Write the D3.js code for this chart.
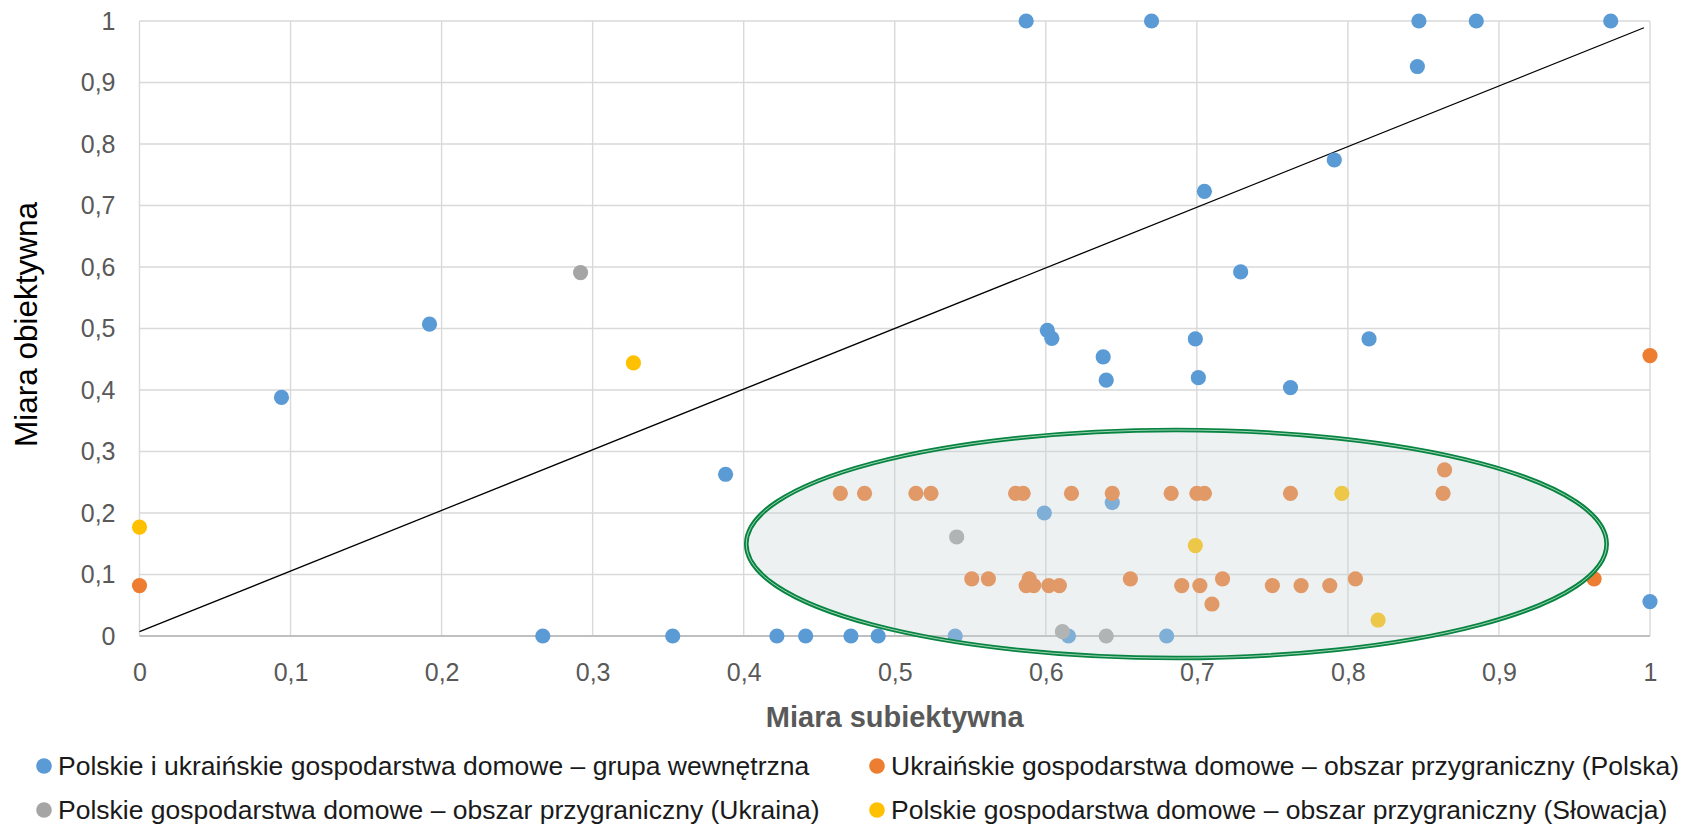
<!DOCTYPE html>
<html>
<head>
<meta charset="utf-8">
<script src="https://cdn.jsdelivr.net/npm/d3@7"></script>
<style>
  body { margin:0; background:#fff; }
  text { font-family: "Liberation Sans", Arial, sans-serif; }
</style>
</head>
<body>
<svg id="svg"></svg>
<script>
const WIDTH = 1694, HEIGHT = 824;
const margin = {top:21, right:44, bottom:188, left:139.5};

// ticks
const xTicks = [0, 0.1, 0.2, 0.3, 0.4, 0.5, 0.6, 0.7, 0.8, 0.9, 1];
const yTicks = [0, 0.1, 0.2, 0.3, 0.4, 0.5, 0.6, 0.7, 0.8, 0.9, 1];

const seriesNames = [
    'Polskie i ukraińskie gospodarstwa domowe – grupa wewnętrzna',
    'Ukraińskie gospodarstwa domowe – obszar przygraniczny (Polska)',
    'Polskie gospodarstwa domowe – obszar przygraniczny (Ukraina)',
    'Polskie gospodarstwa domowe – obszar przygraniczny (Słowacja)'
];
const seriesColors = ['#5B9BD5', '#ED7D31', '#A5A5A5', '#FFC000'];

// [subiektywna, obiektywna]
const grupaWewnetrzna = [
    [0.587,1], [0.670,1], [0.847,1], [0.885,1], [0.974,1],
    [0.846,0.926], [0.791,0.774], [0.705,0.723], [0.729,0.592],
    [0.192,0.507], [0.094,0.388],
    [0.601,0.497], [0.604,0.484], [0.638,0.454], [0.640,0.416],
    [0.699,0.483], [0.701,0.420], [0.762,0.404], [0.814,0.483],
    [0.388,0.263], [0.599,0.200], [0.644,0.217], [1,0.056],
    [0.267,0], [0.353,0], [0.422,0], [0.441,0], [0.471,0], [0.489,0],
    [0.540,0], [0.615,0], [0.680,0]
];
const ukrainskiePolska = [
    [0,0.082], [1,0.456], [0.963,0.093],
    [0.464,0.232], [0.480,0.232], [0.514,0.232], [0.524,0.232], [0.580,0.232],
    [0.585,0.232], [0.617,0.232], [0.644,0.232], [0.683,0.232], [0.700,0.232],
    [0.705,0.232], [0.762,0.232], [0.863,0.232], [0.864,0.270],
    [0.551,0.093], [0.562,0.093], [0.589,0.093], [0.656,0.093], [0.717,0.093], [0.805,0.093],
    [0.587,0.082], [0.592,0.082], [0.602,0.082], [0.609,0.082], [0.690,0.082],
    [0.702,0.082], [0.750,0.082], [0.769,0.082], [0.788,0.082],
    [0.710,0.052]
];
const polskieUkraina = [
    [0.292,0.591], [0.541,0.161], [0.611,0.007], [0.640,0]
];
const polskieSlowacja = [
    [0,0.177], [0.327,0.444], [0.796,0.232], [0.699,0.147], [0.820,0.026]
];

const trendLine = [[0,0.007], [0.996,0.989]];
// cx, cy, rx, ry in data units
const ellipseData = [0.6865, 0.1496, 0.2848, 0.1854];

const svg = d3.select('#svg').attr('width', WIDTH).attr('height', HEIGHT);
const w = WIDTH - margin.left - margin.right, h = HEIGHT - margin.top - margin.bottom;
const x = d3.scaleLinear().domain([0,1]).range([margin.left, margin.left + w]);
const y = d3.scaleLinear().domain([0,1]).range([margin.top + h, margin.top]);
const fmt = d => String(d).replace('.', ',');

// grid
svg.append('g').selectAll('line').data(xTicks).join('line')
    .attr('x1', d => x(d)).attr('x2', d => x(d))
    .attr('y1', y(0)).attr('y2', y(1))
    .attr('stroke', '#D9D9D9').attr('stroke-width', 1.4);
svg.append('g').selectAll('line').data(yTicks.slice(1)).join('line')
    .attr('x1', x(0)).attr('x2', x(1))
    .attr('y1', d => y(d)).attr('y2', d => y(d))
    .attr('stroke', '#D9D9D9').attr('stroke-width', 1.4);
svg.append('line')
    .attr('x1', x(0)).attr('x2', x(1)).attr('y1', y(0)).attr('y2', y(0))
    .attr('stroke', '#BFBFBF').attr('stroke-width', 1.8);

// axes
const xAxis = svg.append('g').attr('transform', 'translate(0,' + (y(0) + 24) + ')')
    .call(d3.axisBottom(x).tickValues(xTicks).tickFormat(fmt).tickSize(0));
xAxis.select('.domain').remove();
xAxis.selectAll('text').attr('font-size', 25).attr('fill', '#595959').attr('dy', '0.71em')
    .attr('font-family', '"Liberation Sans", Arial, sans-serif');

const yAxis = svg.append('g').attr('transform', 'translate(' + (x(0) - 24) + ',0)')
    .call(d3.axisLeft(y).tickValues(yTicks).tickFormat(fmt).tickSize(0));
yAxis.select('.domain').remove();
yAxis.selectAll('text').attr('font-size', 25).attr('fill', '#595959').attr('x', 0)
    .attr('font-family', '"Liberation Sans", Arial, sans-serif');

// titles
svg.append('text').attr('x', x(0.5)).attr('y', 727)
    .attr('text-anchor', 'middle').attr('font-size', 29).attr('font-weight', 'bold')
    .attr('fill', '#595959').text('Miara subiektywna');
svg.append('text').attr('transform', 'translate(37,' + (y(0.5) - 4) + ') rotate(-90)')
    .attr('text-anchor', 'middle').attr('font-size', 31.5)
    .attr('fill', '#000').text('Miara obiektywna');

// trend line
svg.append('line')
    .attr('x1', x(trendLine[0][0])).attr('y1', y(trendLine[0][1]))
    .attr('x2', x(trendLine[1][0])).attr('y2', y(trendLine[1][1]))
    .attr('stroke', '#000').attr('stroke-width', 1.3);

// points
const allSeries = [grupaWewnetrzna, ukrainskiePolska, polskieUkraina, polskieSlowacja];
allSeries.forEach((s, i) => {
    svg.append('g').selectAll('circle').data(s).join('circle')
        .attr('cx', d => x(d[0])).attr('cy', d => y(d[1]))
        .attr('r', 7.6).attr('fill', seriesColors[i]);
});

// ellipse over points
const [ecx, ecy, erx, ery] = ellipseData;
const ell = svg.append('g');
ell.append('ellipse')
    .attr('cx', x(ecx)).attr('cy', y(ecy))
    .attr('rx', x(erx) - x(0)).attr('ry', y(0) - y(ery))
    .attr('fill', 'rgb(200,213,216)').attr('fill-opacity', 0.33)
    .attr('stroke', '#078540').attr('stroke-width', 4.6);
ell.append('ellipse')
    .attr('cx', x(ecx)).attr('cy', y(ecy))
    .attr('rx', x(erx) - x(0)).attr('ry', y(0) - y(ery))
    .attr('fill', 'none').attr('stroke', '#fff').attr('stroke-opacity', 0.7).attr('stroke-width', 0.9);

// legend
const legendPos = [[44,766], [877,766], [44,810], [877,810]];
seriesNames.forEach((n, i) => {
    const g = svg.append('g').attr('transform', 'translate(' + legendPos[i][0] + ',' + legendPos[i][1] + ')');
    g.append('circle').attr('r', 7.8).attr('fill', seriesColors[i]);
    g.append('text').attr('x', 14).attr('dy', '0.35em').attr('font-size', 26.5)
        .attr('fill', '#1a1a1a').text(n);
});
</script>
</body>
</html>
